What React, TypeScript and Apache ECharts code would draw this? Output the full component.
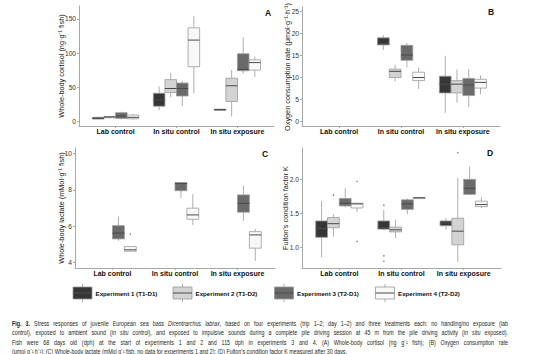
import React, { useEffect, useRef } from 'react';
import * as echarts from 'echarts';

const categories = ['Lab control', 'In situ control', 'In situ exposure'];
const experiments = ['Experiment 1 (T1-D1)', 'Experiment 2 (T1-D2)', 'Experiment 3 (T2-D1)', 'Experiment 4 (T2-D2)'];
const fills = ['#363636', '#d3d3d3', '#6a6a6a', '#f8f8f8'];

// Each entry: [low whisker, Q1, median, Q3, high whisker] per category (null = no data)
type Box = number[] | null;
const cortisolE1: Box[] = [[2.5, 3.2, 4.5, 5.7, 6.5], [16, 22, 31, 41, 51], [16, 16.5, 17, 17.7, 18]];
const cortisolE2: Box[] = [[5.5, 6, 6.3, 6.8, 7.2], [35, 42, 48, 61, 71], [7, 29, 52, 63, 75]];
const cortisolE3: Box[] = [[2.8, 4, 7.6, 12.5, 14], [22, 37, 48, 56, 59], [70, 74, 76, 99, 123]];
const cortisolE4: Box[] = [[2.8, 3.5, 5.7, 9.1, 10.6], [41, 80, 119, 137, 154], [65, 75, 86, 90, 95]];
const cortisolOutliers = [[3, 0, 18]]; // [experiment, category, value]

const oxygenE1: Box[] = [null, [16.3, 17.4, 17.7, 19.0, 19.6], [2.0, 6.5, 8.5, 10.3, 14.9]];
const oxygenE2: Box[] = [null, [9.1, 10.0, 11.4, 11.9, 12.9], [4.3, 6.5, 8.5, 9.3, 11.8]];
const oxygenE3: Box[] = [null, [12.3, 13.9, 15.1, 17.3, 17.8], [3.3, 5.9, 8.3, 9.8, 11.9]];
const oxygenE4: Box[] = [null, [7.4, 9.3, 10.0, 11.2, 12.3], [6.2, 7.6, 8.9, 9.6, 10.5]];
const oxygenOutliers: number[][] = [];

const lactateE1: Box[] = [null, null, null];
const lactateE2: Box[] = [null, null, null];
const lactateE3: Box[] = [[5.19, 5.3, 5.62, 6.03, 6.53], [7.55, 7.95, 8.35, 8.4, 8.42], [6.29, 6.77, 7.26, 7.72, 8.23]];
const lactateE4: Box[] = [[4.6, 4.62, 4.7, 4.88, 4.9], [6.07, 6.38, 6.62, 6.99, 7.76], [4.09, 4.79, 5.52, 5.7, 5.85]];
const lactateOutliers = [[3, 0, 5.56]];

const fultonE1: Box[] = [[0.86, 1.15, 1.28, 1.39, 1.68], [1.26, 1.27, 1.29, 1.39, 1.55], [1.26, 1.32, 1.36, 1.39, 1.43]];
const fultonE2: Box[] = [[1.16, 1.29, 1.35, 1.44, 1.49], [1.14, 1.23, 1.26, 1.3, 1.41], [0.79, 1.04, 1.24, 1.43, 2.02]];
const fultonE3: Box[] = [[1.59, 1.61, 1.65, 1.72, 1.87], [1.49, 1.56, 1.64, 1.7, 1.72], [1.77, 1.78, 1.87, 2.0, 2.19]];
const fultonE4: Box[] = [[1.52, 1.58, 1.64, 1.65, 1.66], [1.72, 1.725, 1.73, 1.735, 1.74], [1.58, 1.6, 1.63, 1.68, 1.74]];
const fultonOutliers = [[1, 0, 1.77], [3, 0, 1.97], [3, 0, 1.09], [0, 1, 1.62], [0, 1, 0.88], [0, 1, 0.8], [1, 2, 2.39]];

const cortisolTicks = [0, 50, 100, 150];
const oxygenTicks = [0, 5, 10, 15, 20, 25];
const lactateTicks = [4, 6, 8, 10];
const fultonTicks = [1.0, 1.5, 2.0];

type Run = [string, 'n' | 'i' | 'b'];
const captionLines: Run[][] = [
  [['Fig. 3.', 'b'], [' Stress responses of juvenile European sea bass ', 'n'], ['Dicentrarchus labrax', 'i'], [', based on four experiments (trip 1\u20132; day 1\u20132) and three treatments each: no handling/no exposure (lab', 'n']],
  [['control), exposed to ambient sound (', 'n'], ['in situ', 'i'], [' control), and exposed to impulsive sounds during a complete pile driving session at 45 m from the pile driving activity (', 'n'], ['in situ', 'i'], [' exposed).', 'n']],
  [['Fish were 68 days old (dph) at the start of experiments 1 and 2 and 115 dph in experiments 3 and 4. (A) Whole-body cortisol (ng g\u207B\u00B9 fish); (B) Oxygen consumption rate', 'n']],
  [['(\u03BCmol g\u207B\u00B9 h\u207B\u00B9); (C) Whole-body lactate (mMol g\u207B\u00B9 fish, no data for experiments 1 and 2); (D) Fulton\u2019s condition factor K measured after 30 days.', 'n']],
];

const FONT = '"Liberation Sans", Arial, sans-serif';
const CAP_FONT = '"Liberation Sans", Arial, sans-serif';
const AXIS = '#a8a8a8';
const LINE = '#9a9a9a';
const MED = '#4a4a4a';
const BOX_FRAC = 0.19;

const panels = [
  { grid: { left: 79, top: 6, width: 195, height: 120 }, y: [-7, 169], ticks: cortisolTicks, fmt: (v: number) => String(v),
    data: [cortisolE1, cortisolE2, cortisolE3, cortisolE4], outliers: cortisolOutliers,
    title: 'Whole-body cortisol (ng\u00B7g\u207B\u00B9 fish)', titlePos: [61, 66], letter: 'A', letterPos: [268, 12.5] },
  { grid: { left: 302, top: 7, width: 198, height: 119 }, y: [-1, 26], ticks: oxygenTicks, fmt: (v: number) => String(v),
    data: [oxygenE1, oxygenE2, oxygenE3, oxygenE4], outliers: oxygenOutliers,
    title: 'Oxygen consumption rate (\u03BCmol\u00B7g\u207B\u00B9\u00B7h\u207B\u00B9)', titlePos: [287, 67], letter: 'B', letterPos: [491, 12] },
  { grid: { left: 75, top: 148, width: 200, height: 120 }, y: [3.7, 10.3], ticks: lactateTicks, fmt: (v: number) => String(v),
    data: [lactateE1, lactateE2, lactateE3, lactateE4], outliers: lactateOutliers,
    title: 'Whole-body lactate (mMol\u00B7g\u207B\u00B9 fish)', titlePos: [61, 208], letter: 'C', letterPos: [265, 154] },
  { grid: { left: 302, top: 148, width: 199, height: 120 }, y: [0.7, 2.46], ticks: fultonTicks, fmt: (v: number) => v.toFixed(1),
    data: [fultonE1, fultonE2, fultonE3, fultonE4], outliers: fultonOutliers,
    title: 'Fulton\u2019s condition factor K', titlePos: [285, 208], letter: 'D', letterPos: [490, 153] },
];

function boxRender(slot: number, fill: string) {
  return (params: any, api: any) => {
    const cat = api.value(0);
    const band = api.size([1, 0])[0];
    const w = band * BOX_FRAC;
    const cx = api.coord([cat, 0])[0] + (slot - 1.5) * w;
    const y = (i: number) => api.coord([cat, api.value(i)])[1];
    const yLow = y(1), yQ1 = y(2), yMed = y(3), yQ3 = y(4), yHigh = y(5);
    const h = Math.max(yQ1 - yQ3, 1.2);
    return {
      type: 'group',
      children: [
        { type: 'line', shape: { x1: cx, y1: yHigh, x2: cx, y2: yQ3 }, style: { stroke: LINE, lineWidth: 0.8 } },
        { type: 'line', shape: { x1: cx, y1: yQ1, x2: cx, y2: yLow }, style: { stroke: LINE, lineWidth: 0.8 } },
        { type: 'rect', shape: { x: cx - w / 2, y: yQ3, width: w, height: h }, style: { fill, stroke: LINE, lineWidth: 0.8 } },
        { type: 'line', shape: { x1: cx - w / 2, y1: yMed, x2: cx + w / 2, y2: yMed }, style: { stroke: MED, lineWidth: 1 } },
      ],
    };
  };
}

function outlierRender(params: any, api: any) {
  const cat = api.value(0);
  const slot = api.value(1);
  const band = api.size([1, 0])[0];
  const w = band * BOX_FRAC;
  const p = api.coord([cat, api.value(2)]);
  return { type: 'circle', shape: { cx: p[0] + (slot - 1.5) * w, cy: p[1], r: 0.8 }, style: { fill: '#8a8a8a' } };
}

function fontStr(s: string, size: number) {
  return `${s === 'i' ? 'italic ' : ''}${s === 'b' ? 'bold ' : ''}${size}px ${CAP_FONT}`;
}

function buildCaption(): any[] {
  const canvas = document.createElement('canvas');
  const ctx = canvas.getContext('2d') as CanvasRenderingContext2D;
  const toWords = (line: Run[]) => {
    const words: { t: string; s: string }[][] = [];
    let cur: { t: string; s: string }[] = [];
    for (const [text, s] of line) {
      text.split(' ').forEach((p, idx) => {
        if (idx > 0) { if (cur.length) words.push(cur); cur = []; }
        if (p) cur.push({ t: p, s });
      });
    }
    if (cur.length) words.push(cur);
    return words;
  };
  const size = 7;
  const measure = (word: { t: string; s: string }[]) =>
    word.reduce((acc, r) => { ctx.font = fontStr(r.s, size); return acc + ctx.measureText(r.t).width; }, 0);
  ctx.font = fontStr('n', size);
  const space = ctx.measureText(' ').width;
  const lines = captionLines.map(toWords);
  const last = lines[lines.length - 1];
  const natural = last.reduce((a, w) => a + measure(w), 0) + space * (last.length - 1);
  const sx = 335 / natural;
  const x0 = 12, W = 496;
  const ys = [323.3, 332.5, 341.7, 350.9];
  const els: any[] = [];
  lines.forEach((words, li) => {
    const widths = words.map((w) => measure(w) * sx);
    const sum = widths.reduce((a, b) => a + b, 0);
    const gap = li < lines.length - 1 ? (W - sum) / (words.length - 1) : space * sx;
    let x = x0;
    words.forEach((w, wi) => {
      const common = { fontSize: size, fontFamily: CAP_FONT, fill: '#231f20' };
      let style: any;
      if (w.length === 1) {
        style = { ...common, text: w[0].t, fontStyle: w[0].s === 'i' ? 'italic' : 'normal', fontWeight: w[0].s === 'b' ? 'bold' : 'normal' };
      } else {
        style = {
          ...common,
          text: w.map((r) => `{${r.s}|${r.t}}`).join(''),
          rich: {
            n: { ...common },
            i: { ...common, fontStyle: 'italic' },
            b: { ...common, fontWeight: 'bold' },
          },
        };
      }
      els.push({ type: 'text', x, y: ys[li], scaleX: sx, style: { ...style, align: 'left', verticalAlign: 'middle' }, silent: true });
      x += widths[wi] + gap;
    });
  });
  return els;
}

function buildLegend(): any[] {
  const keyX = [73, 173, 274.5, 375.5];
  const els: any[] = [];
  experiments.forEach((name, i) => {
    const x = keyX[i];
    const cx = x + 9.5;
    els.push(
      { type: 'line', shape: { x1: cx, y1: 284, x2: cx, y2: 302 }, style: { stroke: LINE, lineWidth: 0.8 } },
      { type: 'rect', shape: { x, y: 287, width: 19, height: 12 }, style: { fill: fills[i], stroke: LINE, lineWidth: 0.8 } },
      { type: 'line', shape: { x1: x, y1: 293, x2: x + 19, y2: 293 }, style: { stroke: MED, lineWidth: 1 } },
      { type: 'text', x: x + 22.5, y: 293, style: { text: name, fontSize: 6.2, fontWeight: 'bold', fontFamily: FONT, fill: '#111', verticalAlign: 'middle', align: 'left' } },
    );
  });
  return els;
}

export default function App() {
  const ref = useRef<HTMLDivElement>(null);
  useEffect(() => {
    if (!ref.current) return;
    const chart = echarts.init(ref.current, undefined, { renderer: 'svg' });
    const grids: any[] = [];
    const xAxes: any[] = [];
    const yAxes: any[] = [];
    const series: any[] = [];
    const graphics: any[] = [];
    panels.forEach((p, gi) => {
      grids.push({ ...p.grid, containLabel: false });
      xAxes.push({
        type: 'value', gridIndex: gi, min: -0.6, max: 2.6,
        splitLine: { show: false },
        axisLine: { show: true, onZero: false, lineStyle: { color: AXIS, width: 1 } },
        axisTick: { show: true, length: 2, lineStyle: { color: AXIS }, customValues: [0, 1, 2] },
        axisLabel: { customValues: [0, 1, 2], formatter: (v: number) => categories[Math.round(v)] ?? '', fontSize: 7, fontWeight: 'bold', color: '#111', margin: 2, fontFamily: FONT },
      });
      yAxes.push({
        type: 'value', gridIndex: gi, min: p.y[0], max: p.y[1],
        splitLine: { show: false },
        axisLine: { show: true, onZero: false, lineStyle: { color: AXIS, width: 1 } },
        axisTick: { show: true, length: 2, lineStyle: { color: AXIS }, customValues: p.ticks },
        axisLabel: { customValues: p.ticks, formatter: p.fmt, fontSize: 6.6, color: '#333', margin: 3, fontFamily: FONT },
      });
      p.data.forEach((arr, ei) => {
        const d = arr.map((b, ci) => (b ? [ci, ...b] : null)).filter((x) => x) as number[][];
        if (!d.length) return;
        series.push({
          type: 'custom', name: experiments[ei], xAxisIndex: gi, yAxisIndex: gi,
          renderItem: boxRender(ei, fills[ei]), data: d, clip: false,
          encode: { x: 0, y: [1, 2, 3, 4, 5] },
        });
      });
      if (p.outliers.length) {
        series.push({
          type: 'custom', xAxisIndex: gi, yAxisIndex: gi, renderItem: outlierRender, clip: false,
          data: p.outliers.map((o) => [o[1], o[0], o[2]]), encode: { x: 0, y: 2 },
        });
      }
      graphics.push({
        type: 'text', x: p.titlePos[0], y: p.titlePos[1], rotation: Math.PI / 2,
        style: { text: p.title, fontSize: 7.3, fontFamily: FONT, fill: '#222', align: 'center', verticalAlign: 'middle' },
      });
      graphics.push({
        type: 'text', x: p.letterPos[0], y: p.letterPos[1],
        style: { text: p.letter, fontSize: 8.5, fontWeight: 'bold', fontFamily: FONT, fill: '#111', align: 'center', verticalAlign: 'middle' },
      });
    });
    graphics.push(...buildLegend());
    graphics.push(...buildCaption());
    chart.setOption({
      animation: false,
      backgroundColor: '#ffffff',
      textStyle: { fontFamily: FONT },
      grid: grids,
      xAxis: xAxes,
      yAxis: yAxes,
      series,
      graphic: { elements: graphics },
    });
    return () => chart.dispose();
  }, []);
  return <div ref={ref} style={{ position: 'absolute', left: 0, top: 0, width: 546, height: 354 }} />;
}
